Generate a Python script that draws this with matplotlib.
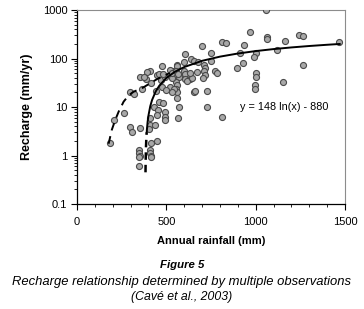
import matplotlib
matplotlib.use("Agg")
import matplotlib.pyplot as plt
from matplotlib.ticker import LogLocator, MultipleLocator, FixedLocator, FixedFormatter

plt.rcParams["font.family"] = ["Liberation Sans", "DejaVu Sans"]

# ---------- data ----------
rain = [
    1058, 969, 1062, 1062, 814, 835, 1241, 1263, 1165, 932, 699, 1468, 1118,
    1001, 993, 913, 749, 749, 928, 894, 1263, 712, 717, 708, 715, 705, 773,
    783, 1001, 1001, 997, 997, 1152, 730, 727, 814,
    602, 559, 600, 637, 652, 675, 596, 606, 671, 559, 540, 522, 634,
    553, 568, 555, 559, 553, 559, 559, 606, 615, 643, 652, 662, 568, 563,
    350, 388, 416, 294, 317, 471, 494, 531, 522, 544, 531,
    429, 457, 484, 451, 494, 494, 494, 447, 410, 406, 438,
    298, 307, 350, 401, 265, 209, 186,
    475, 559, 410, 391, 373, 447, 460, 484, 533, 555, 564, 635,
    363, 442, 475, 497,
    348, 348, 350, 348, 347, 414, 447, 410, 410, 415, 415,
]
recharge = [
    1000, 346, 282, 248, 219, 212, 305, 296, 233, 190, 184, 216, 150,
    128, 109, 128, 128, 87, 82, 63, 72, 73, 64, 54, 46, 39, 54,
    51, 51, 41, 28, 23, 33, 21.7, 10.2, 6.1,
    122, 73, 86, 96, 90, 86, 54, 49, 52, 46, 54, 58, 37,
    44, 42, 33, 28, 24, 20.7, 15.6, 38, 34, 39, 20, 21.5, 9.8, 6.0,
    42, 38, 31, 20.7, 18.2, 36, 42, 39, 26, 24, 20.7,
    10.2, 12.9, 11.9, 8.6, 8.0, 6.3, 5.4, 6.8, 5.8, 4.3, 4.3,
    3.9, 3.0, 3.7, 3.6, 7.7, 5.4, 1.85,
    71, 71, 55, 52, 42, 46, 48, 48, 51, 56, 48, 51,
    23, 21.7, 25.5, 22.3,
    1.3, 1.15, 1.0, 0.92, 0.6, 1.78, 2.0, 1.3, 1.15, 1.0, 0.92,
]

# log fit y = 148 ln(x) - 880
fit_x = [390, 395, 400, 410, 420, 440, 460, 500, 550, 600, 700, 800, 900,
         1000, 1100, 1200, 1300, 1400, 1470]
fit_y = [3.0, 4.9, 6.7, 10.4, 13.9, 20.8, 27.3, 39.8, 53.9, 66.7, 89.6,
         109.3, 126.7, 142.3, 156.4, 169.3, 181.1, 192.1, 199.4]
# dashed drop of the fit toward zero recharge
drop_x = [383.4, 384, 386, 388, 390]
drop_y = [0.45, 0.69, 1.46, 2.23, 3.0]
# second (dashed) relationship
alt_x = [177, 195, 214, 233, 261, 290, 317, 363, 410, 450, 490, 520]
alt_y = [1.75, 3.4, 5.4, 8.0, 12.9, 17.5, 20.7, 24.3, 31, 38, 45, 50]

X_TICKS = [0, 500, 1000, 1500]
Y_TICKS = [0.1, 1, 10, 100, 1000]
Y_TICKLABELS = ["0.1", "1", "10", "100", "1000"]

EQUATION = "y = 148 ln(x) - 880"
FIG_TITLE = "Figure 5"
CAPTION_1 = "Recharge relationship determined by multiple observations"
CAPTION_2 = "(Cavé et al., 2003)"


def main():
    fig = plt.figure(figsize=(3.64, 3.09), dpi=100)
    ax = fig.add_axes([0.2115, 0.3398, 0.7365, 0.6278])

    ax.scatter(rain, recharge, s=19, facecolor="#a8a8a8", edgecolor="#4a4a4a",
               linewidths=0.8, zorder=3)
    ax.plot(fit_x, fit_y, color="black", lw=1.4, zorder=4)
    ax.plot(drop_x, drop_y, color="black", lw=1.8, ls=(0, (3, 2)), zorder=4)
    ax.plot(alt_x, alt_y, color="black", lw=1.4, ls=(0, (4, 3)), zorder=4)

    ax.set_yscale("log")
    ax.set_xlim(0, 1500)
    ax.set_ylim(0.1, 1000)

    ax.yaxis.set_major_locator(FixedLocator(Y_TICKS))
    ax.yaxis.set_major_formatter(FixedFormatter(Y_TICKLABELS))
    ax.yaxis.set_minor_locator(LogLocator(base=10, subs=range(2, 10)))
    ax.xaxis.set_major_locator(FixedLocator(X_TICKS))
    ax.xaxis.set_minor_locator(MultipleLocator(100))

    ax.tick_params(axis="both", which="major", labelsize=8, length=4,
                   width=0.8, direction="out", colors="black")
    ax.tick_params(axis="both", which="minor", length=2.5, width=0.6,
                   direction="out")
    ax.tick_params(axis="x", pad=5)
    ax.tick_params(axis="y", pad=3)

    for side in ("left", "bottom"):
        ax.spines[side].set_color("black")
        ax.spines[side].set_linewidth(0.9)
    for side in ("top", "right"):
        ax.spines[side].set_color("#8c8c8c")
        ax.spines[side].set_linewidth(0.8)

    ax.text(913, 10, EQUATION, fontsize=7.8, va="center", ha="left")

    ax.set_ylabel("Recharge (mm/yr)", fontsize=9, fontweight="bold",
                  labelpad=7)
    ax.set_xlabel("Annual rainfall (mm)", fontsize=8, fontweight="bold",
                  labelpad=7)

    fig.text(0.5, 0.143, FIG_TITLE, fontsize=8.2, fontweight="bold",
             style="italic", ha="center", va="center")
    fig.text(0.5, 0.088, CAPTION_1, fontsize=9.4, style="italic",
             ha="center", va="center")
    fig.text(0.5, 0.038, CAPTION_2, fontsize=8.8, style="italic",
             ha="center", va="center")

    fig.savefig("out.png", dpi=100)
    plt.close(fig)


if __name__ == "__main__":
    main()
